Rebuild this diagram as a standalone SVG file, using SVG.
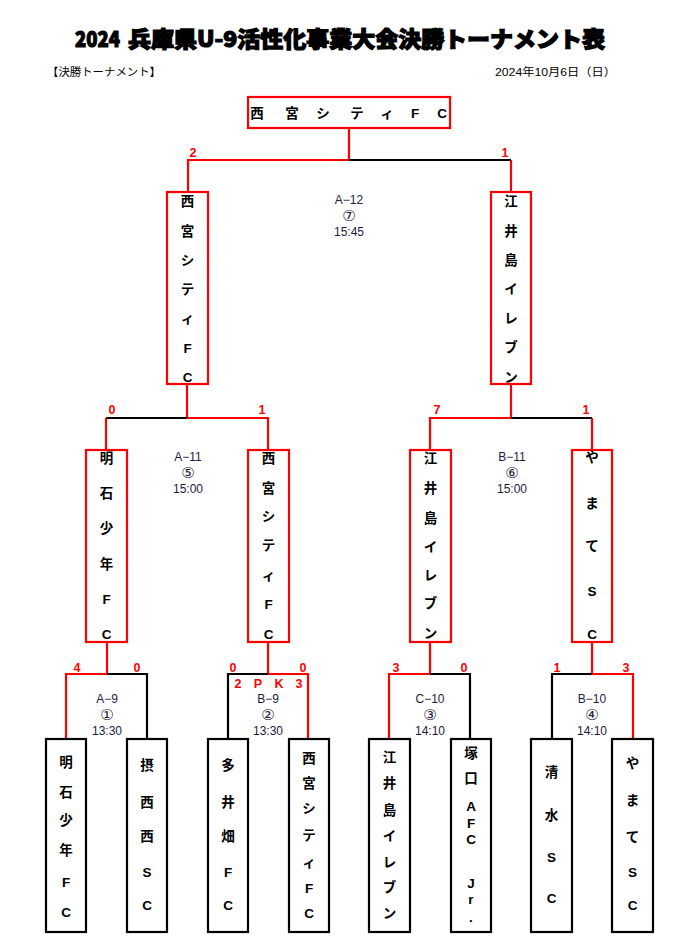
<svg xmlns="http://www.w3.org/2000/svg" width="679" height="947" viewBox="0 0 679 947">
<style>
  .bg{fill:#ffffff}
  .title{font-family:"Noto Sans CJK JP","Liberation Sans",sans-serif;font-weight:900;font-size:22px;fill:#000;stroke:#000;stroke-width:1.2px;dominant-baseline:central}
  .sub{font-family:"Liberation Sans","Noto Sans CJK JP",sans-serif;font-size:11px;fill:#000;dominant-baseline:central}
  .boxr{fill:#fff;stroke:#ff0000;stroke-width:2.2px}
  .boxk{fill:#fff;stroke:#000;stroke-width:2.2px}
  .v{font-family:"Liberation Sans","Noto Sans CJK JP",sans-serif;font-weight:bold;font-size:13.5px;fill:#000;text-anchor:middle;dominant-baseline:central}
  .r{stroke:#ff0000;stroke-width:2.2px;fill:none}
  .k{stroke:#000;stroke-width:2.2px;fill:none}
  .sc{font-family:"Liberation Sans",sans-serif;font-weight:bold;font-size:12.5px;fill:#ff0000;text-anchor:middle;dominant-baseline:central}
  .m{font-family:"Liberation Sans","Noto Sans CJK JP",sans-serif;font-size:12px;fill:#1c1c3c;text-anchor:middle;dominant-baseline:central}
  .c{font-family:"DejaVu Sans",sans-serif;font-size:15px;fill:#1c1c3c;text-anchor:middle;dominant-baseline:central}
</style>
<rect class="bg" x="0" y="0" width="679" height="947"/>

<g id="header">
  <text class="title" x="75" y="37" textLength="45" lengthAdjust="spacingAndGlyphs">2024</text>
  <text class="title" x="128" y="37" textLength="477" lengthAdjust="spacingAndGlyphs">兵庫県U-9活性化事業大会決勝トーナメント表</text>
  <text class="sub" x="47" y="72" textLength="114" lengthAdjust="spacingAndGlyphs">【決勝トーナメント】</text>
  <text class="sub" x="495" y="72" textLength="121" lengthAdjust="spacingAndGlyphs">2024年10月6日（日）</text>
</g>

<g id="connectors">
  <path class="r" d="M349,128 V160 H188 V192"/>
  <path class="k" d="M349,160 H511"/>
  <path class="r" d="M511,160 V192"/>
  <path class="r" d="M187,384 V418 H268 V450"/>
  <path class="k" d="M106,418 H187"/>
  <path class="r" d="M106,418 V450"/>
  <path class="r" d="M511,384 V418 H430 V450"/>
  <path class="k" d="M511,418 H592"/>
  <path class="r" d="M592,418 V450"/>
  <path class="r" d="M107,642 V674 H66 V739"/>
  <path class="k" d="M107,674 H147 V739"/>
  <path class="r" d="M268,642 V674 H308 V739"/>
  <path class="k" d="M268,674 H228 V739"/>
  <path class="r" d="M430,642 V674 H389 V739"/>
  <path class="k" d="M430,674 H470 V739"/>
  <path class="r" d="M592,642 V674 H633 V739"/>
  <path class="k" d="M592,674 H552 V739"/>
</g>

<g id="scores">
  <text class="sc" x="193" y="153">2</text>
  <text class="sc" x="505" y="153">1</text>
  <text class="sc" x="112" y="410">0</text>
  <text class="sc" x="262" y="410">1</text>
  <text class="sc" x="437" y="410">7</text>
  <text class="sc" x="586" y="410">1</text>
  <text class="sc" x="77" y="668">4</text>
  <text class="sc" x="137" y="668">0</text>
  <text class="sc" x="233" y="668">0</text>
  <text class="sc" x="303" y="668">0</text>
  <text class="sc" x="238" y="684">2</text>
  <text class="sc" x="258" y="684">P</text>
  <text class="sc" x="279" y="684">K</text>
  <text class="sc" x="299" y="684">3</text>
  <text class="sc" x="396" y="668">3</text>
  <text class="sc" x="464" y="668">0</text>
  <text class="sc" x="557" y="668">1</text>
  <text class="sc" x="626" y="668">3</text>
</g>

<g id="matches">
  <text class="m" x="349" y="200">A−12</text><text class="c" x="349" y="216">⑦</text><text class="m" x="349" y="232">15:45</text>
  <text class="m" x="188" y="457">A−11</text><text class="c" x="188" y="473">⑤</text><text class="m" x="188" y="489">15:00</text>
  <text class="m" x="512" y="457">B−11</text><text class="c" x="512" y="473">⑥</text><text class="m" x="512" y="489">15:00</text>
  <text class="m" x="107" y="699">A−9</text><text class="c" x="107" y="715">①</text><text class="m" x="107" y="731">13:30</text>
  <text class="m" x="268" y="699">B−9</text><text class="c" x="268" y="715">②</text><text class="m" x="268" y="731">13:30</text>
  <text class="m" x="430" y="699">C−10</text><text class="c" x="430" y="715">③</text><text class="m" x="430" y="731">14:10</text>
  <text class="m" x="592" y="699">B−10</text><text class="c" x="592" y="715">④</text><text class="m" x="592" y="731">14:10</text>
</g>

<g id="champion">
  <rect class="boxr" x="248" y="97" width="202" height="31"/>
  <text class="v" y="113"><tspan x="257">西</tspan><tspan x="292">宮</tspan><tspan x="323">シ</tspan><tspan x="357">テ</tspan><tspan x="387">ィ</tspan><tspan x="415">F</tspan><tspan x="442">C</tspan></text>
</g>

<g id="sf-left">
  <rect class="boxr" x="167" y="192" width="41" height="192"/>
  <text class="v"><tspan x="187.5" y="201">西</tspan><tspan x="187.5" y="231">宮</tspan><tspan x="187.5" y="260">シ</tspan><tspan x="187.5" y="289">テ</tspan><tspan x="187.5" y="318">ィ</tspan><tspan x="187.5" y="348">F</tspan><tspan x="187.5" y="377">C</tspan></text>
</g>

<g id="sf-right">
  <rect class="boxr" x="491" y="192" width="40" height="192"/>
  <text class="v"><tspan x="511" y="201">江</tspan><tspan x="511" y="231">井</tspan><tspan x="511" y="260">島</tspan><tspan x="511" y="289">イ</tspan><tspan x="511" y="318">レ</tspan><tspan x="511" y="347">ブ</tspan><tspan x="511" y="377">ン</tspan></text>
</g>

<g id="qf-1">
  <rect class="boxr" x="86" y="450" width="41" height="192"/>
  <text class="v"><tspan x="106.5" y="458">明</tspan><tspan x="106.5" y="493">石</tspan><tspan x="106.5" y="528">少</tspan><tspan x="106.5" y="564">年</tspan><tspan x="106.5" y="599">F</tspan><tspan x="106.5" y="634">C</tspan></text>
</g>
<g id="qf-2">
  <rect class="boxr" x="248" y="450" width="41" height="192"/>
  <text class="v"><tspan x="268.5" y="458">西</tspan><tspan x="268.5" y="488">宮</tspan><tspan x="268.5" y="516">シ</tspan><tspan x="268.5" y="545">テ</tspan><tspan x="268.5" y="575">ィ</tspan><tspan x="268.5" y="604">F</tspan><tspan x="268.5" y="634">C</tspan></text>
</g>
<g id="qf-3">
  <rect class="boxr" x="410" y="450" width="41" height="192"/>
  <text class="v"><tspan x="430.5" y="458">江</tspan><tspan x="430.5" y="488">井</tspan><tspan x="430.5" y="518">島</tspan><tspan x="430.5" y="547">イ</tspan><tspan x="430.5" y="575">レ</tspan><tspan x="430.5" y="603">ブ</tspan><tspan x="430.5" y="633">ン</tspan></text>
</g>
<g id="qf-4">
  <rect class="boxr" x="572" y="450" width="40" height="192"/>
  <text class="v"><tspan x="592" y="457">や</tspan><tspan x="592" y="503">ま</tspan><tspan x="592" y="546">て</tspan><tspan x="592" y="591">S</tspan><tspan x="592" y="634">C</tspan></text>
</g>

<g id="team-1">
  <rect class="boxk" x="46" y="739" width="40" height="193"/>
  <text class="v"><tspan x="66" y="762">明</tspan><tspan x="66" y="792">石</tspan><tspan x="66" y="820">少</tspan><tspan x="66" y="850">年</tspan><tspan x="66" y="882">F</tspan><tspan x="66" y="912">C</tspan></text>
</g>
<g id="team-2">
  <rect class="boxk" x="127" y="739" width="40" height="193"/>
  <text class="v"><tspan x="147" y="765">摂</tspan><tspan x="147" y="802">西</tspan><tspan x="147" y="836">西</tspan><tspan x="147" y="872">S</tspan><tspan x="147" y="905">C</tspan></text>
</g>
<g id="team-3">
  <rect class="boxk" x="208" y="739" width="40" height="193"/>
  <text class="v"><tspan x="228" y="765">多</tspan><tspan x="228" y="802">井</tspan><tspan x="228" y="836">畑</tspan><tspan x="228" y="872">F</tspan><tspan x="228" y="905">C</tspan></text>
</g>
<g id="team-4">
  <rect class="boxk" x="289" y="739" width="40" height="193"/>
  <text class="v"><tspan x="309" y="758">西</tspan><tspan x="309" y="783">宮</tspan><tspan x="309" y="808">シ</tspan><tspan x="309" y="835">テ</tspan><tspan x="309" y="862">ィ</tspan><tspan x="309" y="888">F</tspan><tspan x="309" y="913">C</tspan></text>
</g>
<g id="team-5">
  <rect class="boxk" x="369" y="739" width="41" height="193"/>
  <text class="v"><tspan x="389.5" y="757">江</tspan><tspan x="389.5" y="783">井</tspan><tspan x="389.5" y="810">島</tspan><tspan x="389.5" y="836">イ</tspan><tspan x="389.5" y="862">レ</tspan><tspan x="389.5" y="887">ブ</tspan><tspan x="389.5" y="913">ン</tspan></text>
</g>
<g id="team-6">
  <rect class="boxk" x="451" y="739" width="40" height="193"/>
  <text class="v"><tspan x="471" y="753">塚</tspan><tspan x="471" y="778">口</tspan><tspan x="471" y="806">A</tspan><tspan x="471" y="823">F</tspan><tspan x="471" y="839">C</tspan><tspan x="471" y="883">J</tspan><tspan x="471" y="899">r</tspan><tspan x="471" y="917">.</tspan></text>
</g>
<g id="team-7">
  <rect class="boxk" x="531" y="739" width="41" height="193"/>
  <text class="v"><tspan x="551.5" y="772">清</tspan><tspan x="551.5" y="815">水</tspan><tspan x="551.5" y="857">S</tspan><tspan x="551.5" y="898">C</tspan></text>
</g>
<g id="team-8">
  <rect class="boxk" x="612" y="739" width="41" height="193"/>
  <text class="v"><tspan x="632.5" y="763">や</tspan><tspan x="632.5" y="800">ま</tspan><tspan x="632.5" y="837">て</tspan><tspan x="632.5" y="872">S</tspan><tspan x="632.5" y="905">C</tspan></text>
</g>
</svg>
